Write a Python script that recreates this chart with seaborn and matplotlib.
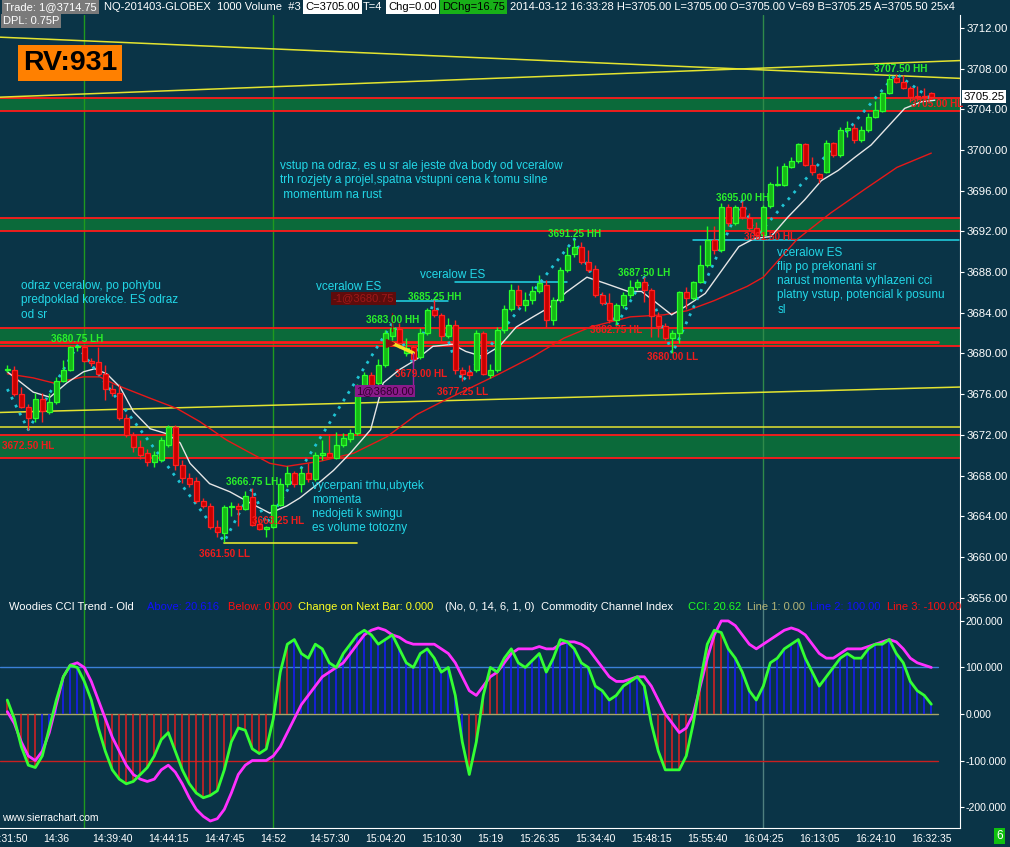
import numpy as np
import pandas as pd
import matplotlib
matplotlib.use("Agg")
import matplotlib.pyplot as plt
import seaborn as sns

# ---------------- data ----------------
# one candle per 1000 contracts, bar index 0..132
opens = [3678.4, 3678.4, 3676.0, 3674.7, 3673.7, 3675.5, 3674.2, 3675.2, 3677.3, 3678.4,
         3680.6, 3680.6, 3679.3, 3679.2, 3678.0, 3676.5, 3676.1, 3673.7, 3672.0, 3670.8,
         3670.2, 3669.3, 3669.5, 3671.0, 3672.8, 3669.0, 3667.8, 3667.5, 3665.5, 3665.0,
         3662.9, 3662.3, 3664.9, 3665.0, 3664.7, 3665.9, 3663.2, 3662.7, 3662.9, 3665.1,
         3667.2, 3668.2, 3667.2, 3668.2, 3667.7, 3670.0, 3670.2, 3669.7, 3671.0, 3671.6,
         3672.2, 3676.9, 3677.9, 3677.1, 3678.9, 3681.7, 3682.4, 3680.0, 3680.6, 3679.7,
         3682.0, 3684.3, 3683.8, 3681.7, 3682.8, 3678.4, 3678.2, 3678.4, 3682.0, 3677.9,
         3678.4, 3682.3, 3684.4, 3686.2, 3684.8, 3685.3, 3686.1, 3686.7, 3683.3, 3685.3,
         3688.2, 3689.8, 3690.5, 3689.0, 3688.3, 3685.7, 3685.0, 3683.3, 3684.8, 3685.7,
         3686.5, 3687.0, 3686.2, 3683.7, 3682.7, 3681.5, 3682.0, 3686.0, 3685.5, 3687.0,
         3688.7, 3691.2, 3690.2, 3694.4, 3692.8, 3694.4, 3693.3, 3692.3, 3691.6, 3694.5,
         3696.6, 3696.6, 3698.3, 3698.9, 3700.6, 3698.5, 3697.6, 3697.8, 3700.7, 3699.5,
         3702.0, 3702.2, 3701.0, 3702.0, 3703.3, 3703.8, 3705.6, 3707.1, 3706.7, 3706.1,
         3705.3, 3705.3, 3705.6]
highs = [3678.9, 3678.8, 3676.7, 3675.0, 3676.1, 3676.1, 3676.1, 3677.7, 3679.4, 3680.75,
         3680.75, 3680.75, 3679.6, 3680.6, 3678.9, 3677.0, 3677.0, 3674.0, 3672.3, 3671.5,
         3670.6, 3670.4, 3671.8, 3673.0, 3673.0, 3669.5, 3668.2, 3667.9, 3665.8, 3665.3,
         3663.6, 3665.1, 3665.4, 3665.3, 3666.5, 3666.75, 3663.6, 3663.0, 3665.2, 3667.8,
         3668.9, 3668.4, 3668.7, 3669.2, 3670.3, 3671.5, 3672.1, 3672.3, 3672.2, 3672.6,
         3677.0, 3678.2, 3678.2, 3679.5, 3682.3, 3683.0, 3683.0, 3681.5, 3680.8, 3682.5,
         3684.5, 3685.25, 3684.0, 3683.5, 3683.3, 3678.7, 3678.9, 3682.3, 3682.2, 3679.0,
         3682.6, 3684.8, 3686.8, 3686.7, 3686.0, 3686.6, 3687.7, 3687.2, 3685.6, 3688.5,
         3690.5, 3691.25, 3691.0, 3690.2, 3688.7, 3686.0, 3685.9, 3685.0, 3686.0, 3687.2,
         3687.3, 3687.5, 3686.4, 3684.1, 3683.0, 3682.3, 3686.1, 3686.5, 3687.1, 3690.7,
         3692.5, 3692.5, 3694.8, 3694.7, 3694.6, 3695.0, 3693.8, 3692.9, 3694.6, 3696.9,
         3698.4, 3698.7, 3699.3, 3700.7, 3700.7, 3699.3, 3697.7, 3701.0, 3700.8, 3702.3,
         3702.9, 3702.6, 3702.4, 3703.6, 3704.8, 3705.7, 3707.5, 3707.5, 3707.4, 3706.3,
         3706.3, 3706.1, 3705.7]
lows = [3678.2, 3675.8, 3674.6, 3672.5, 3673.3, 3673.3, 3674.0, 3675.0, 3677.2, 3678.3,
        3680.2, 3679.2, 3678.8, 3677.9, 3675.4, 3675.8, 3673.5, 3671.8, 3670.3, 3669.6,
        3668.9, 3668.8, 3669.3, 3670.8, 3668.5, 3667.3, 3666.9, 3665.3, 3664.8, 3662.7,
        3662.0, 3661.5, 3664.0, 3663.0, 3664.6, 3663.0, 3662.6, 3662.0, 3662.8, 3665.0,
        3666.9, 3666.9, 3666.4, 3667.4, 3667.5, 3669.5, 3669.7, 3669.6, 3670.8, 3671.3,
        3672.0, 3676.6, 3676.7, 3676.9, 3678.7, 3681.3, 3680.5, 3679.8, 3679.0, 3679.5,
        3681.8, 3683.6, 3681.2, 3681.5, 3678.0, 3677.25, 3677.5, 3678.2, 3677.9, 3677.6,
        3678.2, 3682.0, 3684.2, 3684.5, 3684.2, 3684.9, 3685.9, 3682.6, 3682.8, 3685.1,
        3688.0, 3689.5, 3688.8, 3688.0, 3685.6, 3684.8, 3683.0, 3682.75, 3684.5, 3685.5,
        3686.2, 3685.1, 3681.6, 3681.6, 3681.3, 3680.0, 3681.0, 3684.4, 3685.3, 3686.9,
        3688.5, 3689.8, 3690.0, 3692.5, 3692.6, 3693.2, 3692.0, 3691.5, 3691.5, 3694.3,
        3696.5, 3696.5, 3698.2, 3698.7, 3698.4, 3697.5, 3696.8, 3697.7, 3699.3, 3699.3,
        3701.3, 3700.7, 3700.8, 3701.8, 3703.2, 3703.7, 3705.5, 3706.6, 3706.0, 3704.7,
        3704.8, 3705.1, 3705.0]
closes = [3678.5, 3676.0, 3674.7, 3673.7, 3675.5, 3674.3, 3675.2, 3677.3, 3678.4, 3680.6,
          3680.7, 3679.3, 3679.1, 3678.0, 3676.5, 3676.1, 3673.7, 3672.0, 3670.8, 3670.0,
          3669.3, 3670.0, 3671.5, 3672.8, 3669.0, 3667.8, 3667.2, 3665.5, 3665.0, 3662.9,
          3662.4, 3664.9, 3665.0, 3664.7, 3666.0, 3663.1, 3662.7, 3662.9, 3665.1, 3667.2,
          3668.2, 3667.2, 3668.2, 3667.7, 3670.0, 3670.2, 3669.8, 3671.0, 3671.7, 3672.2,
          3676.6, 3677.9, 3676.9, 3678.9, 3682.0, 3682.5, 3681.0, 3680.5, 3679.5, 3682.0,
          3684.3, 3683.8, 3681.7, 3682.8, 3678.4, 3678.0, 3677.9, 3682.0, 3678.0, 3678.4,
          3682.3, 3684.4, 3686.2, 3684.8, 3685.3, 3686.1, 3686.9, 3683.3, 3685.3, 3688.2,
          3689.7, 3690.5, 3689.0, 3688.2, 3685.7, 3685.0, 3683.3, 3684.8, 3685.7, 3686.5,
          3687.0, 3686.2, 3683.7, 3682.7, 3681.5, 3682.0, 3686.0, 3685.5, 3687.0, 3688.7,
          3691.2, 3690.2, 3694.4, 3692.8, 3694.4, 3693.4, 3692.3, 3691.6, 3694.4, 3696.7,
          3696.7, 3698.4, 3698.9, 3700.6, 3698.5, 3697.8, 3697.3, 3700.7, 3699.5, 3702.0,
          3702.2, 3701.0, 3702.0, 3703.3, 3703.9, 3705.6, 3707.0, 3706.7, 3706.1, 3705.2,
          3705.2, 3705.2, 3705.25]

tick_bars = [0, 7, 15, 23, 31, 38, 46, 54, 62, 69, 76, 84, 92, 100, 108, 116, 124, 132]
tick_labels = ["14:31:50", "14:36", "14:39:40", "14:44:15", "14:47:45", "14:52", "14:57:30",
               "15:04:20", "15:10:30", "15:19", "15:26:35", "15:34:40", "15:48:15", "15:55:40",
               "16:04:25", "16:13:05", "16:24:10", "16:32:35"]

# white (fast) average, read at knots
fast_bars = [0, 3.7, 6.1, 8.5, 10.9, 12.5, 14.2, 16.1, 18, 20.4, 22.8, 24.7, 26.1, 28.9, 31.8,
             34.7, 37.5, 39.9, 41.8, 44.2, 46.6, 49, 51.9, 53.7, 56, 58.4, 60.8, 63.6, 65.5,
             67.9, 70.3, 72.7, 75.1, 77.6, 79.8, 82.8, 85.4, 88.7, 90.6, 92.5, 94.9, 97.3,
             99.7, 102.1, 104.5, 106.7, 109.1, 111.5, 113.9, 116.3, 118.7, 121.1, 123.4,
             125.8, 128.2, 130.6, 132.5]
fast_vals = [3678.2, 3676.2, 3675.7, 3677.1, 3678.2, 3678.5, 3678.0, 3676.7, 3674.3, 3672.6,
             3672.1, 3671.2, 3669.2, 3667.2, 3666.4, 3665.3, 3664.3, 3665.0, 3665.8, 3667.1,
             3668.5, 3670.2, 3672.5, 3677.1, 3678.4, 3679.4, 3680.7, 3680.9, 3680.2, 3679.7,
             3680.7, 3682.6, 3683.6, 3684.6, 3686.0, 3687.5, 3686.9, 3686.1, 3686.1, 3685.1,
             3683.8, 3684.8, 3685.9, 3688.2, 3690.5, 3691.3, 3691.5, 3693.4, 3695.1, 3697.0,
             3698.0, 3699.3, 3700.5, 3702.3, 3704.1, 3704.75, 3704.9]

# red (slow) average, read at knots
slow_bars = [0, 3.7, 6.6, 10.9, 13.2, 15.6, 20.4, 24.2, 27.5, 31.3, 34.5, 37.5, 39.9, 44.7,
             49.5, 54.2, 58.5, 62.5, 65.5, 70.3, 75.1, 79.5, 83.3, 89, 93.8, 97.1, 101,
             105.7, 108, 112.8, 117.6, 122.4, 127.1, 132]
slow_vals = [3678.0, 3677.6, 3677.1, 3677.7, 3677.7, 3676.9, 3675.6, 3674.6, 3673.3, 3671.5,
             3670.3, 3669.2, 3668.9, 3669.4, 3670.2, 3671.8, 3674.0, 3675.4, 3676.4, 3678.0,
             3679.7, 3681.5, 3682.6, 3683.6, 3683.8, 3684.2, 3685.2, 3686.6, 3687.5, 3691.2,
             3693.8, 3696.1, 3698.3, 3699.7]

# swing points (zigzag)
swing_bars = [0, 3, 10, 31, 35, 37, 55, 58, 61, 65, 81, 87, 91, 95, 105, 107, 127, 132]
swing_prices = [3676.5, 3672.5, 3680.75, 3661.5, 3666.75, 3663.25, 3683.0, 3679.0, 3685.25,
                3677.25, 3691.25, 3682.75, 3687.5, 3680.0, 3695.0, 3691.5, 3707.5, 3705.0]
swing_kinds = ["", "HL", "LH", "LL", "LH", "HL", "HH", "HL", "HH", "LL", "HH", "HL", "LH",
               "LL", "HH", "HL", "HH", "HL"]

# support / resistance zones
zone_tops = [3705.1, 3693.3, 3682.5, 3672.0]
zone_bottoms = [3703.85, 3692.0, 3680.7, 3669.7]

# long trend lines: price at left edge, price at right edge
trend_left = [3711.1, 3705.2, 3674.2, 3672.75]
trend_right = [3707.05, 3708.8, 3676.7, 3672.75]

# "vceralow ES" levels: start bar, end bar, price
level_start = [47, 64, 98]
level_end = [63, 80, 136]
level_price = [3685.2, 3687.0, 3691.2]

# CCI panel
cci = [30, -10, -70, -110, -115, -90, -30, 30, 80, 105,
       100, 70, 30, -30, -80, -120, -140, -150, -145, -130,
       -115, -90, -55, -40, -80, -120, -150, -170, -180, -175,
       -165, -120, -60, -30, -35, -75, -85, -75, -10, 90,
       150, 160, 130, 120, 150, 140, 110, 100, 130, 150,
       170, 180, 170, 150, 160, 170, 140, 110, 100, 130,
       140, 120, 90, 100, 40, -60, -130, -60, 40, 100,
       90, 120, 140, 110, 100, 115, 130, 90, 120, 160,
       155, 140, 110, 100, 60, 50, 30, 40, 60, 70,
       80, 60, -20, -80, -120, -120, -120, -90, -20, 70,
       150, 180, 175, 140, 120, 90, 50, 30, 60, 110,
       120, 140, 150, 160, 120, 90, 60, 80, 100, 120,
       130, 120, 120, 140, 150, 150, 160, 130, 110, 70,
       50, 40, 21]
cci_turbo = [5, -20, -60, -90, -100, -80, -40, 20, 80, 105,
             110, 100, 70, 30, -10, -50, -80, -110, -130, -140,
             -145, -140, -120, -110, -125, -150, -180, -205, -220, -230,
             -225, -205, -170, -130, -110, -100, -100, -100, -90, -70,
             -40, -10, 20, 40, 60, 80, 90, 100, 110, 130,
             150, 170, 180, 185, 180, 170, 165, 155, 150, 150,
             150, 150, 140, 130, 110, 80, 50, 40, 60, 80,
             90, 110, 130, 140, 140, 140, 145, 140, 140, 150,
             155, 155, 150, 140, 120, 100, 80, 70, 70, 75,
             80, 80, 60, 30, 0, -20, -40, -30, 0, 60,
             120, 170, 200, 200, 190, 170, 150, 140, 150, 160,
             170, 180, 185, 180, 170, 150, 130, 120, 120, 130,
             140, 140, 140, 145, 150, 155, 160, 155, 140, 120,
             110, 105, 100]
cci_trend = ("DDDDD" + "UUUUUUUU" + "DDDDDDDDDDDDDDDDDDDDDDDDDDDD" + "UUUUUUUUUUUUUUUUUUUUUUUUU"
             + "DDDDD" + "UUUUUUUUUUUUUUUUUUUUUU" + "DDDDDDDDDD" + "UUUUUUUUUUUUUUUUUUUUUUUUUUUUUU")

# ---------------- styling ----------------
W, H = 1010, 847
BG = "#0a3447"
ZONE = "#0b6a3a"
CYAN = "#22d8e8"

sns.set_style("dark", {"axes.facecolor": BG, "figure.facecolor": BG})
plt.rcParams["font.family"] = ["Liberation Sans", "DejaVu Sans"]

fig = plt.figure(figsize=(W / 100, H / 100), dpi=100)
fig.patch.set_facecolor(BG)


def fx(x):
    return x / W


def fy(y):
    return 1 - y / H


X_LEFT = -7.3 / 7
X_RIGHT = (960 - 7.3) / 7

ax = fig.add_axes([0, fy(600), fx(960), (600 - 15) / H])
cx = fig.add_axes([0, fy(828), fx(960), (828 - 600) / H])

df = pd.DataFrame({"bar": np.arange(len(closes)), "open": opens, "high": highs,
                   "low": lows, "close": closes})
up = df["close"] >= df["open"]

# ---- price panel ----
ax.set_xlim(X_LEFT, X_RIGHT)
ax.set_ylim(3655.76, 3713.28)

for top, bot in zip(zone_tops, zone_bottoms):
    ax.axhspan(bot, top, color=ZONE, zorder=1, lw=0)
    ax.axhline(top, color="#ff1a1a", lw=1.3, zorder=2)
    ax.axhline(bot, color="#ff1a1a", lw=1.3, zorder=2)
ax.plot([X_LEFT, 133], [3681.1, 3681.1], color="#ff1a1a", lw=2, zorder=2)

for left, right in zip(trend_left, trend_right):
    ax.plot([X_LEFT, X_RIGHT], [left, right], color="#e4e430", lw=1.1, zorder=2)
ax.plot([31, 50], [3661.4, 3661.4], color="#e4e430", lw=1.2, zorder=2)

for s, e, p in zip(level_start, level_end, level_price):
    ax.plot([s, e], [p, p], color=CYAN, lw=1.1, zorder=2)

for b, c in [(11, "#1f9a1f"), (38, "#1f9a1f"), (108, "#2f8a4a")]:
    ax.axvline(b, color=c, lw=1, zorder=1.5)
    cx.axvline(b, color=c if b != 108 else "#4f7f7f", lw=1, zorder=1.5)

sns.lineplot(x=slow_bars, y=slow_vals, ax=ax, color="#e81818", lw=1, zorder=3)
sns.lineplot(x=fast_bars, y=fast_vals, ax=ax, color="#e6e6e6", lw=1, zorder=3)
sns.lineplot(x=swing_bars, y=swing_prices, ax=ax, color="#1fc4d4", lw=2,
             linestyle=(0, (1, 2.2)), zorder=4)

# candles
ax.vlines(df["bar"], df["low"], df["high"], colors=np.where(up, "#22ff22", "#ff2020"),
          lw=1, zorder=5)
body_lo = np.minimum(df["open"], df["close"])
body_h = np.maximum(np.abs(df["close"] - df["open"]), 0.08)
ax.bar(df["bar"][up], body_h[up], bottom=body_lo[up], width=0.72, color="#16b816",
       edgecolor="#2aff2a", lw=0.9, zorder=6)
ax.bar(df["bar"][~up], body_h[~up], bottom=body_lo[~up], width=0.72, color="#c80000",
       edgecolor="#ff2020", lw=0.9, zorder=6)

# swing labels
label_dx = [0, 0, 0, 0, 0, 12, 0, 8, 0, 0, 0, 0, 0, 0, 0, 14, 4, 6]
label_dy = [0, -16, 7, -12, 6, 3, 3, -10, 3, -11, 5, -4, 4, -4, 3, 0, 5, -5]
for b, p, k, dx, dy in zip(swing_bars, swing_prices, swing_kinds, label_dx, label_dy):
    if not k:
        continue
    col = "#2af02a" if k in ("HH", "LH") else "#f01c1c"
    ax.annotate(f"{p:.2f} {k}", (b, p), xytext=(dx * 0.72, dy * 0.72),
                textcoords="offset points", ha="center", va="center", color=col,
                fontsize=7.2, fontweight="bold", zorder=8)

# trade markers
ax.plot([55, 58], [3681.0, 3680.05], color="#f0e020", lw=2.5, zorder=7)
ax.plot([54.6], [3681.05], marker=">", color="#8a1010", ms=6, zorder=7)
ax.plot([54.95, 54.95], [3684.0, 3682.2], color="#8a1010", lw=1, zorder=7)
ax.plot([58, 58], [3680.05, 3676.8], color="#a020a0", lw=1, zorder=7)
ax.text(46.5, 3685.4, "-1@3680.75", color="#a01818", fontsize=8, va="center",
        bbox=dict(boxstyle="square,pad=0.12", fc="#5e0c0c", ec="none"), zorder=7)
ax.text(49.8, 3676.3, "1@3680.00", color="#30002e", fontsize=8, va="center",
        bbox=dict(boxstyle="square,pad=0.12", fc="#8a1a8a", ec="none"), zorder=7)

# notes
note_kw = dict(color=CYAN, fontsize=8.5, va="top", linespacing=1.25, zorder=8)
ax.text(2.0, 3687.2, "odraz vceralow, po pohybu\npredpoklad korekce. ES odraz\nod sr", **note_kw)
ax.text(38.9, 3699.0, "vstup na odraz, es u sr ale jeste dva body od vceralow\n"
        "trh rozjety a projel,spatna vstupni cena k tomu silne\n momentum na rust", **note_kw)
ax.text(44.1, 3686.5, "vceralow ES", color=CYAN, fontsize=8.5, va="center", zorder=8)
ax.text(58.9, 3687.7, "vceralow ES", color=CYAN, fontsize=8.5, va="center", zorder=8)
ax.text(110.0, 3690.5, "vceralow ES\nflip po prekonani sr\nnarust momenta vyhlazeni cci\n"
        "platny vstup, potencial k posunu\nsl", **note_kw)
ax.text(43.5, 3667.6, "vycerpani trhu,ubytek\nmomenta\nnedojeti k swingu\nes volume totozny",
        **note_kw)

ax.yaxis.tick_right()
ax.set_yticks(np.arange(3656, 3713, 4))
ax.set_yticklabels([f"{v:.2f}" for v in np.arange(3656, 3713, 4)])
ax.tick_params(axis="y", colors="white", labelsize=8.2, length=3, pad=2, direction="out")
ax.set_xticks([])
for side in ["left", "top", "bottom"]:
    ax.spines[side].set_visible(False)
ax.spines["right"].set_color("white")
ax.set_xlabel("")
ax.set_ylabel("")
ax.text(1.004, 3705.25, "3705.25", transform=ax.get_yaxis_transform(), color="black",
        fontsize=8.2, va="center", ha="left",
        bbox=dict(boxstyle="square,pad=0.12", fc="white", ec="none"), zorder=10, clip_on=False)

# ---- CCI panel ----
cx.set_xlim(X_LEFT, X_RIGHT)
cx.set_ylim(-245, 245)
cx.plot([X_LEFT, 133], [100, 100], color="#3a80d8", lw=1)
cx.plot([X_LEFT, 133], [0, 0], color="#a8a468", lw=1)
cx.plot([X_LEFT, 133], [-100, -100], color="#c82020", lw=1)
cx.vlines(df["bar"], 0, cci, colors=["#1a1aff" if t == "U" else "#e02020" for t in cci_trend],
          lw=1.1, zorder=2)
sns.lineplot(x=df["bar"], y=cci_turbo, ax=cx, color="#ff30ff", lw=2, zorder=3)
sns.lineplot(x=df["bar"], y=cci, ax=cx, color="#33ff33", lw=2, zorder=4)
cx.yaxis.tick_right()
cx.set_yticks([-200, -100, 0, 100, 200])
cx.set_yticklabels([f"{v:.3f}" for v in [-200, -100, 0, 100, 200]])
cx.set_xticks(tick_bars)
cx.set_xticklabels(tick_labels)
cx.tick_params(axis="y", colors="white", labelsize=7.6, length=3, pad=1)
cx.tick_params(axis="x", colors="white", labelsize=7.5, length=3, pad=1)
for side in ["left", "top"]:
    cx.spines[side].set_visible(False)
cx.spines["right"].set_color("white")
cx.spines["bottom"].set_color("white")
cx.set_xlabel("")
cx.set_ylabel("")

# ---- header texts ----
def htext(x, y, s, color="white", bg=None, size=8, pad=0.18):
    kw = dict(color=color, fontsize=size, va="center", ha="left")
    if bg:
        kw["bbox"] = dict(boxstyle=f"square,pad={pad}", fc=bg, ec="none")
    t = fig.text(fx(x), fy(y), s, **kw)
    return t

htext(4, 7, "Trade: 1@3714.75", bg="#7a7a7a")
htext(104, 7, "NQ-201403-GLOBEX  1000 Volume  #3")
htext(305, 7, "C=3705.00", color="black", bg="white")
htext(363, 7, "T=4")
htext(388, 7, "Chg=0.00", color="black", bg="white")
htext(442, 7, "DChg=16.75", color="black", bg="#18b018")
htext(510, 7, "2014-03-12 16:33:28 H=3705.00 L=3705.00 O=3705.00 V=69 B=3705.25 A=3705.50 25x4")
htext(3, 21, "DPL: 0.75P", bg="#7a7a7a")

htext(23, 63, "RV:931", color="black", bg="#ff8000", size=20.5, pad=0.16).set_fontweight("bold")

hx = [9, 147, 228, 298, 445, 541, 688, 747, 810, 887]
hs = ["Woodies CCI Trend - Old", "Above: 20.616", "Below: 0.000", "Change on Next Bar: 0.000",
      "(No, 0, 14, 6, 1, 0)", "Commodity Channel Index", "CCI: 20.62", "Line 1: 0.00",
      "Line 2: 100.00", "Line 3: -100.00"]
hc = ["white", "#1010ff", "#ff1010", "#ffff20", "white", "white", "#20ff20", "#b4b478",
      "#1010ff", "#ff1010"]
for x, s, c in zip(hx, hs, hc):
    htext(x, 607, s, color=c)

htext(2, 818, "www.sierrachart.com", size=7.5)
htext(996, 836, "6", bg="#10c010", size=8.5)

fig.savefig("out.png", dpi=100, facecolor=BG)
